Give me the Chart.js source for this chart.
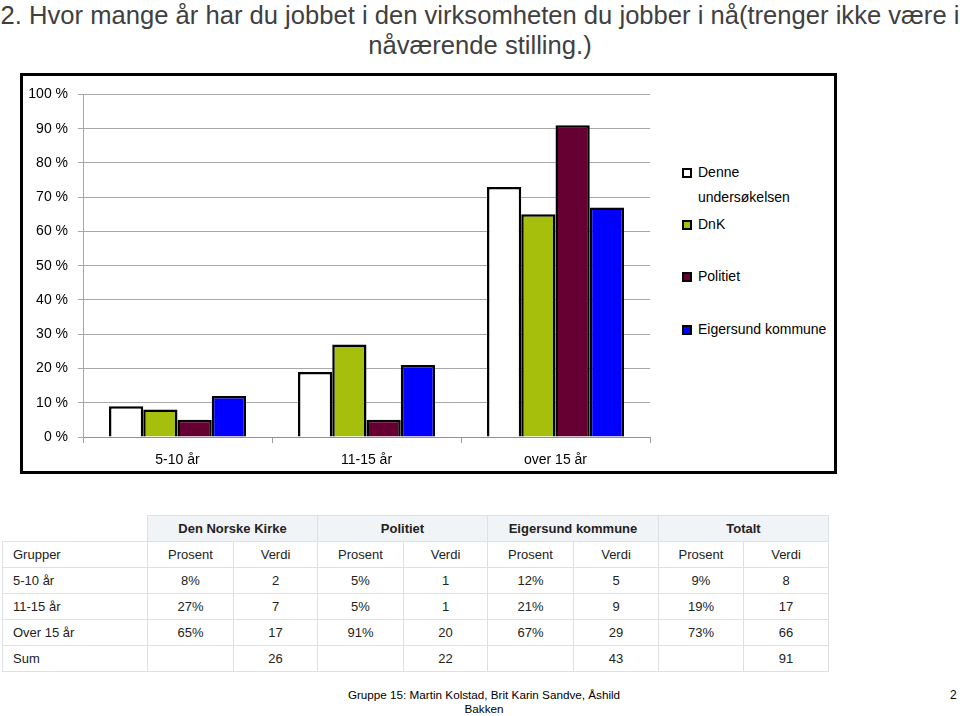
<!DOCTYPE html>
<html>
<head>
<meta charset="utf-8">
<script src="https://cdn.jsdelivr.net/npm/chart.js@4/dist/chart.umd.min.js"></script>
<style>
  html, body { margin:0; padding:0; background:#fff; }
  body { width:960px; height:716px; position:relative; overflow:hidden; font-family:"Liberation Sans", Arial, sans-serif; }
  #title { position:absolute; left:0; top:0; width:960px; text-align:center; font-size:25.6px; line-height:30px; color:#404040; white-space:nowrap; }
  #box { position:absolute; left:20px; top:73px; width:817px; height:401px; box-sizing:border-box; border:3px solid #000; }
  #cwrap { position:absolute; left:0; top:0; width:632px; height:395px; }
  #legend { position:absolute; left:657px; top:84px; font-size:14px; color:#000; }
  .li { position:absolute; left:0; white-space:nowrap; line-height:25px; }
  .sw { position:absolute; left:2px; top:8px; width:6px; height:6px; border:2px solid #000; }
  .lt { position:absolute; left:18px; top:0; }
  table { position:absolute; left:2px; top:515px; border-collapse:collapse; font-size:13px; color:#222; table-layout:fixed; }
  td { border:1px solid #dde1e4; text-align:center; padding:0; height:25px; }
  td.first { text-align:left; padding-left:10px; }
  tr.head td { background:#f1f4f6; font-weight:bold; }
  tr.head td.blank { background:#fff; border:none; }
  #footer { position:absolute; left:284px; top:688px; width:400px; text-align:center; font-size:11.7px; line-height:14px; color:#000; }
  #page { position:absolute; left:950px; top:688px; font-size:12px; line-height:14px; }
</style>
</head>
<body>
<div id="title">2. Hvor mange år har du jobbet i den virksomheten du jobber i nå(trenger ikke være i<br>nåværende stilling.)</div>
<div id="box">
  <div id="cwrap"><canvas id="c"></canvas></div>
  <div id="legend"></div>
</div>
<table id="tbl"></table>
<div id="footer">Gruppe 15: Martin Kolstad, Brit Karin Sandve, Åshild<br>Bakken</div>
<div id="page">2</div>
<script>
// ---- chart data ----
const categories = ['5-10 år', '11-15 år', 'over 15 år'];
const seriesNames = ['Denne undersøkelsen', 'DnK', 'Politiet', 'Eigersund kommune'];
const denne = [9, 19, 73];
const dnk = [8, 27, 65];
const politiet = [5, 5, 91];
const eigersund = [12, 21, 67];
const seriesColors = ['#ffffff', '#a5bf0c', '#660033', '#0000ff'];
const yMin = 0, yMax = 100, yStep = 10;

// ---- table data ----
const tableGroups = ['Den Norske Kirke', 'Politiet', 'Eigersund kommune', 'Totalt'];
const tableSubHeader = ['Grupper', 'Prosent', 'Verdi', 'Prosent', 'Verdi', 'Prosent', 'Verdi', 'Prosent', 'Verdi'];
const rowLabels = ['5-10 år', '11-15 år', 'Over 15 år', 'Sum'];
const rowNorskeKirke = [['8%', '2'], ['27%', '7'], ['65%', '17'], ['', '26']];
const rowPolitiet = [['5%', '1'], ['5%', '1'], ['91%', '20'], ['', '22']];
const rowEigersund = [['12%', '5'], ['21%', '9'], ['67%', '29'], ['', '43']];
const rowTotalt = [['9%', '8'], ['19%', '17'], ['73%', '66'], ['', '91']];

const seriesData = [denne, dnk, politiet, eigersund];

new Chart(document.getElementById('c'), {
  type: 'bar',
  data: {
    labels: categories,
    datasets: seriesNames.map((n, i) => ({
      label: n,
      data: seriesData[i],
      backgroundColor: seriesColors[i],
      borderColor: '#000',
      borderWidth: 2.5,
      categoryPercentage: 0.725,
      barPercentage: 1
    }))
  },
  options: {
    responsive: true,
    maintainAspectRatio: false,
    animation: false,
    layout: { padding: { top: 15, right: 5, left: 0, bottom: 0 } },
    plugins: { legend: { display: false }, tooltip: { enabled: false } },
    scales: {
      x: {
        grid: { offset: true, drawOnChartArea: false, drawTicks: true, tickLength: 6, color: '#a0a0a0', lineWidth: 1 },
        border: { display: true, color: '#909090', width: 1 },
        ticks: { color: '#000', font: { family: 'Liberation Sans, Arial', size: 14 }, padding: 9 },
        afterFit: s => { s.height = 34; }
      },
      y: {
        min: yMin, max: yMax,
        ticks: { stepSize: yStep, color: '#000', font: { family: 'Liberation Sans, Arial', size: 14 }, padding: 10, callback: v => v + ' %' },
        grid: { color: '#a8a8a8', lineWidth: 1, tickLength: 5 },
        border: { display: true, color: '#a8a8a8', width: 1 },
        afterFit: s => { s.width = 60; }
      }
    }
  }
});

// legend
const legendEl = document.getElementById('legend');
const legendRows = [
  { top: 0, text: 'Denne<br>undersøkelsen' },
  { top: 52, text: 'DnK' },
  { top: 104, text: 'Politiet' },
  { top: 157, text: 'Eigersund kommune' }
];
legendRows.forEach((r, i) => {
  const d = document.createElement('div');
  d.className = 'li';
  d.style.top = r.top + 'px';
  d.innerHTML = '<div class="sw" style="background:' + seriesColors[i] + '"></div><div class="lt">' + r.text + '</div>';
  legendEl.appendChild(d);
});

// table
const colWidths = [145, 86, 84, 86, 84, 86, 85, 85, 85];
const rowHeights = [25, 24, 25, 25, 26, 25];
const tbl = document.getElementById('tbl');
let html = '<colgroup>' + colWidths.map(w => '<col style="width:' + w + 'px">').join('') + '</colgroup>';
html += '<tr class="head" style="height:' + rowHeights[0] + 'px"><td class="blank"></td>' + tableGroups.map(g => '<td colspan="2">' + g + '</td>').join('') + '</tr>';
html += '<tr style="height:' + rowHeights[1] + 'px">' + tableSubHeader.map((h, i) => '<td' + (i === 0 ? ' class="first"' : '') + '>' + h + '</td>').join('') + '</tr>';
const groupsData = [rowNorskeKirke, rowPolitiet, rowEigersund, rowTotalt];
rowLabels.forEach((lab, r) => {
  html += '<tr style="height:' + rowHeights[r + 2] + 'px"><td class="first">' + lab + '</td>';
  groupsData.forEach(g => { html += '<td>' + g[r][0] + '</td><td>' + g[r][1] + '</td>'; });
  html += '</tr>';
});
tbl.innerHTML = html;
</script>
</body>
</html>
